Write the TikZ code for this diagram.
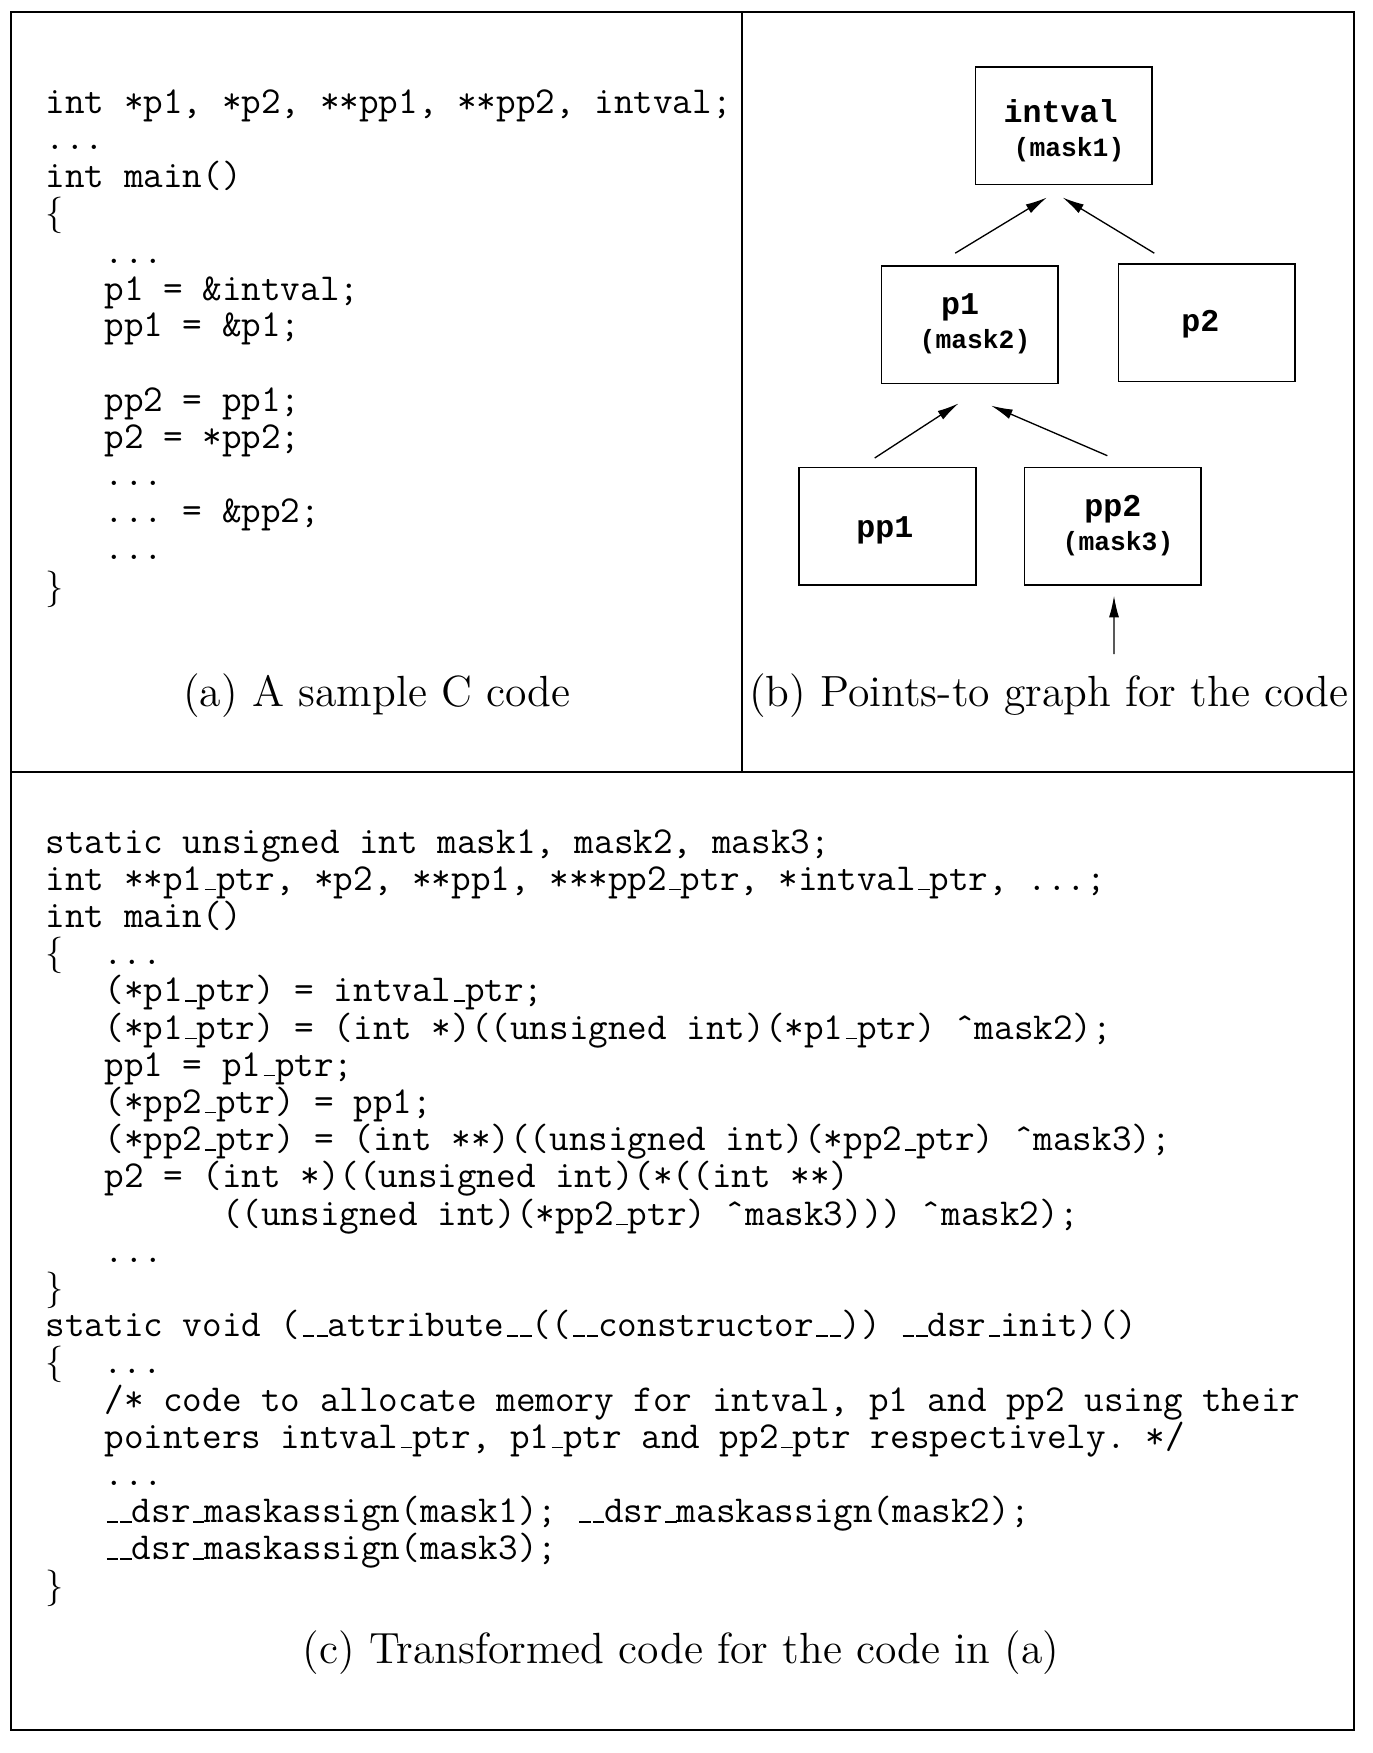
\documentclass[tikz,border=0pt]{standalone}
\usepackage{fontspec}
\usetikzlibrary{calc,arrows.meta}

\newfontfamily\figfont{Liberation Mono}
\newcommand{\codefont}{\fontsize{11.42}{11.42}\selectfont\ttfamily\frenchspacing}
\newcommand{\capfont}{\fontsize{13.1}{15}\selectfont\rmfamily}
\newcommand{\usc}{\leavevmode\kern.06em\vbox{\hrule width.3em}}
\newcommand{\hatc}{\symbol{"02C6}}
\newcommand{\lbr}{$\{$}
\newcommand{\rbr}{$\}$}

\begin{document}
\begin{tikzpicture}[x=0.3pt,y=-0.3pt,
  code/.style={anchor=base west,inner sep=0pt,font=\codefont},
  capt/.style={anchor=base,inner sep=0pt,font=\capfont},
  varbox/.style={draw,line width=.45pt,minimum width=53pt,minimum height=35.2pt,inner sep=0pt},
  varname/.style={anchor=base,inner sep=0pt,font=\fontsize{9.5}{9.5}\figfont\bfseries},
  varmask/.style={anchor=base,inner sep=0pt,font=\fontsize{7.9}{7.9}\figfont\bfseries},
  arr/.style={-{Latex[length=6.5pt,width=3pt]},line width=.4pt}]
\useasboundingbox (0,0) rectangle (1372,1753);

% frame
\draw[line width=.6pt] (11,12) rectangle (1354,1730);
\draw[line width=.6pt] (742,12) -- (742,772);
\draw[line width=.6pt] (11,772) -- (1354,772);

% (a) sample code
\node[code] (a0) at (45,114) {int *p1, *p2, **pp1, **pp2, intval;};
\node[code] (a1) at (45,150) {...};
\node[code] (a2) at (45,187) {int main()};
\node[code] (a3) at (45,225) {\lbr};
\node[code] (a4) at (45,263) {\ \ \ ...};
\node[code] (a5) at (45,300) {\ \ \ p1 = \&intval;};
\node[code] (a6) at (45,336) {\ \ \ pp1 = \&p1;};
\node[code] (a8) at (45,411) {\ \ \ pp2 = pp1;};
\node[code] (a9) at (45,448) {\ \ \ p2 = *pp2;};
\node[code] (a10) at (45,485) {\ \ \ ...};
\node[code] (a11) at (45,522) {\ \ \ ... = \&pp2;};
\node[code] (a12) at (45,559) {\ \ \ ...};
\node[code] (a13) at (45,598) {\rbr};
\node[capt] (capa) at (377,706) {(a) A sample C code};

% (b) points-to graph
\node[varbox] (intval) at (1063.7,125.8) {};
\node[varbox] (p1) at (969.8,324.9) {};
\node[varbox] (p2) at (1206.8,322.7) {};
\node[varbox] (pp1) at (887.5,526.3) {};
\node[varbox] (pp2) at (1112.9,526.3) {};
\node[varname] (intvaltxt) at (1060.6,122.5) {intval};
\node[varmask] (mask1txt) at (1069,156.5) {(mask1)};
\node[varname] (p1txt) at (960,314) {p1};
\node[varmask] (mask2txt) at (975,348.6) {(mask2)};
\node[varname] (p2txt) at (1200.4,331.7) {p2};
\node[varname] (pp1txt) at (884.8,537.6) {pp1};
\node[varname] (pp2txt) at (1112.8,516.5) {pp2};
\node[varmask] (mask3txt) at (1118,550.5) {(mask3)};
\coordinate (src) at (1114,654);
\draw[arr] ($(p1.north)+(-14.6,-12.3)$) -- ($(intval.south)+(-16.8,12.3)$);
\draw[arr] ($(p2.north)+(-52.5,-10.1)$) -- ($(intval.south)+(-1.1,12.3)$);
\draw[arr] ($(pp1.north)+(-12.8,-8.9)$) -- ($(p1.south)+(-11.2,19.1)$);
\draw[arr] ($(pp2.north)+(-5.6,-11.2)$) -- ($(p1.south)+(21.2,21.3)$);
\draw[arr] (src) -- ($(pp2.south)+(1.1,10)$);
\node[capt] (capb) at (1049,706) {(b) Points-to graph for the code};

% (c) transformed code
\node[code] (c0) at (45,853) {static unsigned int mask1, mask2, mask3;};
\node[code] (c1) at (45,890.2) {int **p1\usc ptr, *p2, **pp1, ***pp2\usc ptr, *intval\usc ptr, ...;};
\node[code] (c2) at (45,927.4) {int main()};
\node[code] (c3) at (45,964.6) {\lbr\ \ ...};
\node[code] (c4) at (45,1001.8) {\ \ \ (*p1\usc ptr) = intval\usc ptr;};
\node[code] (c5) at (45,1039) {\ \ \ (*p1\usc ptr) = (int *)((unsigned int)(*p1\usc ptr) \hatc mask2);};
\node[code] (c6) at (45,1076.2) {\ \ \ pp1 = p1\usc ptr;};
\node[code] (c7) at (45,1113.4) {\ \ \ (*pp2\usc ptr) = pp1;};
\node[code] (c8) at (45,1150.6) {\ \ \ (*pp2\usc ptr) = (int **)((unsigned int)(*pp2\usc ptr) \hatc mask3);};
\node[code] (c9) at (45,1187.8) {\ \ \ p2 = (int *)((unsigned int)(*((int **)};
\node[code] (c10) at (45,1225) {\ \ \ \ \ \ \ \ \ ((unsigned int)(*pp2\usc ptr) \hatc mask3))) \hatc mask2);};
\node[code] (c11) at (45,1262.2) {\ \ \ ...};
\node[code] (c12) at (45,1299.4) {\rbr};
\node[code] (c13) at (45,1336.6) {static void (\usc\usc attribute\usc\usc((\usc\usc constructor\usc\usc)) \usc\usc dsr\usc init)()};
\node[code] (c14) at (45,1373.8) {\lbr\ \ ...};
\node[code] (c15) at (45,1411) {\ \ \ /* code to allocate memory for intval, p1 and pp2 using their};
\node[code] (c16) at (45,1448.2) {\ \ \ pointers intval\usc ptr, p1\usc ptr and pp2\usc ptr respectively. */};
\node[code] (c17) at (45,1485.4) {\ \ \ ...};
\node[code] (c18) at (45,1522.6) {\ \ \ \usc\usc dsr\usc maskassign(mask1); \usc\usc dsr\usc maskassign(mask2);};
\node[code] (c19) at (45,1559.8) {\ \ \ \usc\usc dsr\usc maskassign(mask3);};
\node[code] (c20) at (45,1597) {\rbr};
\node[capt] (capc) at (681,1663) {(c) Transformed code for the code in (a)};
\end{tikzpicture}
\end{document}
